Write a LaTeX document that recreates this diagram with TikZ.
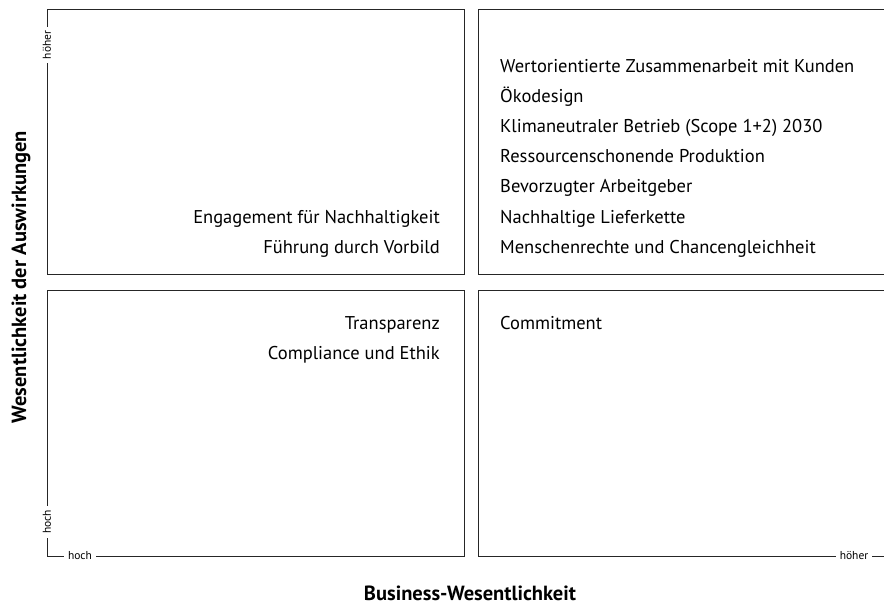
\documentclass[tikz,border=0pt]{standalone}
\usepackage{fontspec}
\setmainfont{PT Sans}
\usetikzlibrary{positioning}
\tikzset{
  quadline/.style={draw=black!85, line width=1pt},
  itemtext/.style={font=\fontsize{18.5}{22}\selectfont, inner sep=0pt},
  axistext/.style={font=\fontsize{11.5}{13}\selectfont, fill=white, inner sep=4pt},
  titletext/.style={font=\fontsize{20.5}{24}\selectfont\bfseries, inner sep=0pt}
}
\begin{document}
\begin{tikzpicture}[x=1pt, y=-1pt]
  \useasboundingbox (0,0) rectangle (884,605);
  % quadrants
  \draw[quadline] (47,9) rectangle (464,274);
  \draw[quadline] (884,9) -- (478,9) -- (478,274) -- (884,274);
  \draw[quadline] (47,290) rectangle (464,556);
  \draw[quadline] (884,290) -- (478,290) -- (478,556) -- (884,556);
  % axis labels
  \node[axistext, rotate=90] (vhigh) at (47,45) {höher};
  \node[axistext, rotate=90] (vlow) at (47,522) {hoch};
  \node[axistext] (hlow) at (80,556) {hoch};
  \node[axistext] (hhigh) at (854,556) {höher};
  \node[titletext, rotate=90] (ytitle) at (21,277) {Wesentlichkeit der Auswirkungen};
  \node[titletext, anchor=base] (xtitle) at (470,600) {Business-Wesentlichkeit};
  % top left
  \node[itemtext, anchor=base east] (engage) at (440,223) {Engagement für Nachhaltigkeit};
  \node[itemtext, anchor=base east] (vorbild) at (440,253) {Führung durch Vorbild};
  % top right
  \node[itemtext, anchor=base west] (wert) at (500,72) {Wertorientierte Zusammenarbeit mit Kunden};
  \node[itemtext, anchor=base west] (oeko) at (500,102) {Ökodesign};
  \node[itemtext, anchor=base west] (klima) at (500,132) {Klimaneutraler Betrieb (Scope 1+2) 2030};
  \node[itemtext, anchor=base west] (ressource) at (500,162) {Ressourcenschonende Produktion};
  \node[itemtext, anchor=base west] (arbeit) at (500,192) {Bevorzugter Arbeitgeber};
  \node[itemtext, anchor=base west] (liefer) at (500,223) {Nachhaltige Lieferkette};
  \node[itemtext, anchor=base west] (rechte) at (500,253) {Menschenrechte und Chancengleichheit};
  % bottom left
  \node[itemtext, anchor=base east] (transp) at (440,329) {Transparenz};
  \node[itemtext, anchor=base east] (compl) at (440,359) {Compliance und Ethik};
  % bottom right
  \node[itemtext, anchor=base west] (commit) at (500,329) {Commitment};
\end{tikzpicture}
\end{document}
